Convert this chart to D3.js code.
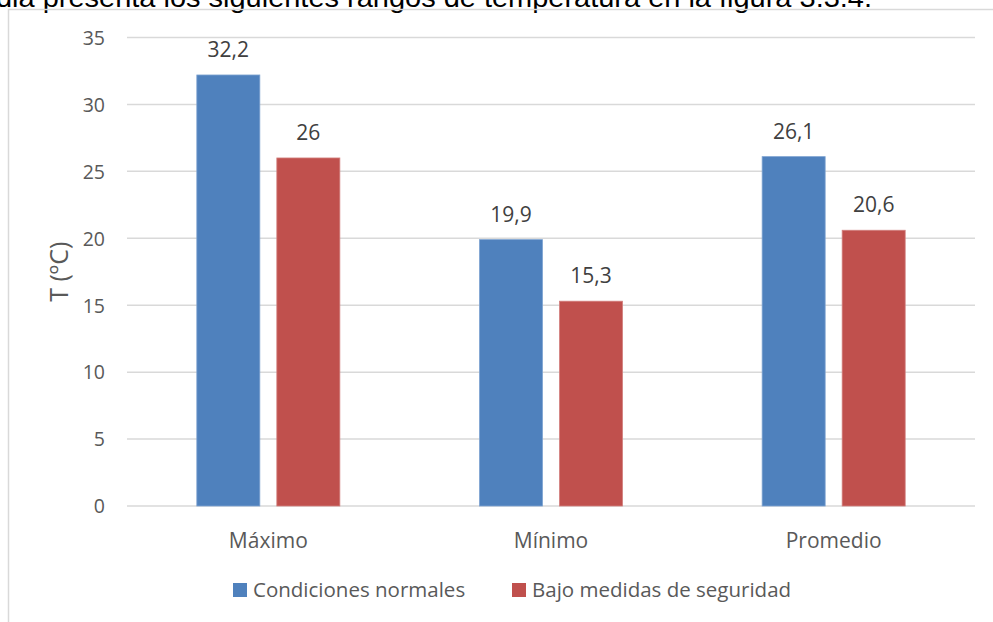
<!DOCTYPE html>
<html>
<head>
<meta charset="utf-8">
<script src="https://cdn.jsdelivr.net/npm/d3@7"></script>
<style>
  html, body { margin: 0; padding: 0; background: #fff; overflow: hidden; }
  svg { display: block; }
</style>
</head>
<body>
<svg id="chart" width="993" height="622"></svg>
<script>
// Temperature ranges (ºC) under two scenarios
const categories = ["Máximo", "Mínimo", "Promedio"];
const seriesNames = ["Condiciones normales", "Bajo medidas de seguridad"];
const normales = [32.2, 19.9, 26.1];
const seguridad = [26, 15.3, 20.6];
const yTicks = [0, 5, 10, 15, 20, 25, 30, 35];
const colors = ["#4f81bd", "#c0504d"];

const svg = d3.select("#chart");
const W = 993, H = 622;
const font = "'Open Sans', Lato, sans-serif";

// Body text line above the chart frame
svg.append("text")
  .attr("x", -4).attr("y", 7)
  .attr("font-family", "'Liberation Sans', Arial, sans-serif")
  .attr("font-size", 27)
  .attr("fill", "#000")
  .attr("textLength", 876)
  .attr("lengthAdjust", "spacingAndGlyphs")
  .text("dia presenta los siguientes rangos de temperatura en la figura 3.3.4.");

// Chart frame (top and left edges visible)
svg.append("path")
  .attr("d", `M8.5,${H} L8.5,9.5 L${W},9.5`)
  .attr("fill", "none").attr("stroke", "#d9d9d9").attr("stroke-width", 1.5);

const plot = { left: 127, right: 975, top: 37.5, bottom: 506 };

const y = d3.scaleLinear().domain([0, 35]).range([plot.bottom, plot.top]);
const x0 = d3.scaleBand().domain(categories).range([plot.left, plot.right]).padding(0);
const groupW = x0.bandwidth() * 0.506;
const x1 = d3.scaleBand().domain(seriesNames).range([0, groupW]).paddingInner(0.2125).paddingOuter(0);

// Gridlines
svg.append("g").selectAll("line").data(yTicks).join("line")
  .attr("x1", plot.left).attr("x2", plot.right)
  .attr("y1", d => y(d)).attr("y2", d => y(d))
  .attr("stroke", "#d9d9d9").attr("stroke-width", 1.5);

// Y axis labels
const yAxis = d3.axisLeft(y).tickValues(yTicks).tickSize(0).tickPadding(0).tickFormat(d3.format("d"));
const gy = svg.append("g").attr("transform", `translate(${plot.left - 22},0)`).call(yAxis);
gy.select(".domain").remove();
gy.selectAll("text")
  .attr("font-family", font).attr("font-size", 19.5).attr("fill", "#595959")
  .attr("dy", "0.35em");

// Y axis title
svg.append("text")
  .attr("transform", `translate(68,${(plot.top + plot.bottom) / 2}) rotate(-90)`)
  .attr("text-anchor", "middle")
  .attr("font-family", font).attr("font-size", 25).attr("fill", "#595959")
  .text("T (ºC)");

// Category labels
const xAxis = d3.axisBottom(x0).tickSize(0).tickPadding(0);
const gx = svg.append("g").attr("transform", `translate(0,${plot.bottom + 35})`).call(xAxis);
gx.select(".domain").remove();
gx.selectAll("text")
  .attr("font-family", font).attr("font-size", 21).attr("fill", "#595959")
  .attr("dy", "0.35em");

// Bars
const rows = categories.map((c, i) => ({ cat: c, vals: [normales[i], seguridad[i]] }));
const fmt = v => String(v).replace(".", ",");

const groups = svg.append("g").selectAll("g").data(rows).join("g")
  .attr("transform", d => `translate(${x0(d.cat) + (x0.bandwidth() - groupW) / 2},0)`);

groups.selectAll("rect").data(d => d.vals.map((v, j) => ({ s: seriesNames[j], v, j }))).join("rect")
  .attr("x", d => x1(d.s))
  .attr("y", d => y(d.v))
  .attr("width", x1.bandwidth())
  .attr("height", d => y(0) - y(d.v))
  .attr("fill", d => colors[d.j])
  .attr("stroke", d => d.j === 0 ? "#7ea3d1" : "#d27f7d")
  .attr("stroke-width", 0.8);

groups.selectAll("text.val").data(d => d.vals.map((v, j) => ({ s: seriesNames[j], v, j }))).join("text")
  .attr("class", "val")
  .attr("x", d => x1(d.s) + x1.bandwidth() / 2)
  .attr("y", d => y(d.v) - 18)
  .attr("text-anchor", "middle")
  .attr("font-family", font).attr("font-size", 21).attr("fill", "#404040")
  .text(d => fmt(d.v));

// Legend
const legendY = 590;
const legendX = [233, 512];
const lg = svg.append("g").selectAll("g").data(seriesNames).join("g")
  .attr("transform", (d, i) => `translate(${legendX[i]},${legendY})`);
lg.append("rect").attr("x", 0).attr("y", -7).attr("width", 14).attr("height", 14)
  .attr("fill", (d, i) => colors[i]);
lg.append("text").attr("x", 20).attr("y", 0).attr("dy", "0.35em")
  .attr("font-family", font).attr("font-size", 20.5).attr("fill", "#595959")
  .text(d => d);
</script>
</body>
</html>
